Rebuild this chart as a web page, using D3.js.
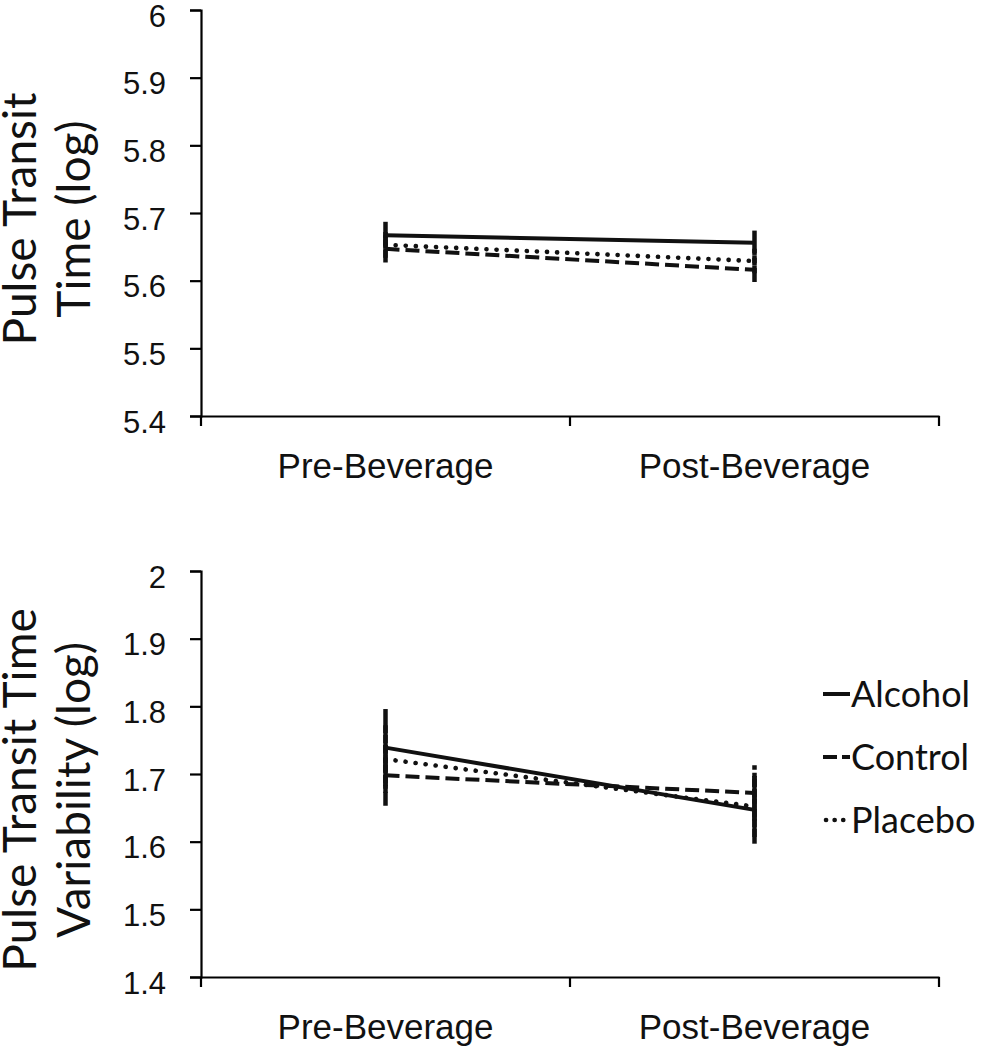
<!DOCTYPE html>
<html><head><meta charset="utf-8">
<script src="https://cdn.jsdelivr.net/npm/d3@7"></script>
<style>
html,body{margin:0;padding:0;background:#fff;}
svg{display:block;font-family:Lato,"Noto Sans",sans-serif;}
</style></head>
<body>
<svg id="c" width="984" height="1050"></svg>
<script>
const categories = ["Pre-Beverage", "Post-Beverage"];
const seriesNames = ["Alcohol", "Control", "Placebo"];

// Panel 1: Pulse Transit Time (log)
const pttAlcohol = [5.667, 5.656];
const pttControl = [5.647, 5.616];
const pttPlacebo = [5.653, 5.629];
const pttErrAlcohol = [0.020, 0.018];
const pttErrControl = [0.020, 0.018];
const pttErrPlacebo = [0.019, 0.018];
const pttTicks = [5.4, 5.5, 5.6, 5.7, 5.8, 5.9, 6];

// Panel 2: Pulse Transit Time Variability (log)
const pttvAlcohol = [1.739, 1.647];
const pttvControl = [1.698, 1.672];
const pttvPlacebo = [1.722, 1.652];
const pttvErrAlcohol = [0.057, 0.050];
const pttvErrControl = [0.045, 0.041];
const pttvErrPlacebo = [0.050, 0.045];
const pttvTicks = [1.4, 1.5, 1.6, 1.7, 1.8, 1.9, 2];

const styles = {
  Alcohol: {dash: null, width: 4, cap: "butt"},
  Control: {dash: "14,6", width: 4, cap: "butt"},
  Placebo: {dash: "0.1,10", width: 4.6, cap: "round"}
};

const svg = d3.select("#c");

function panel(cfg) {
  const g = svg.append("g");
  const x = d3.scaleBand().domain(categories).range([201, 939]).padding(0);
  const y = d3.scaleLinear().domain([cfg.ticks[0], cfg.ticks[cfg.ticks.length-1]]).range([cfg.bottom, cfg.top]);

  // y axis
  const ya = g.append("g").attr("transform", "translate(201,0)")
    .call(d3.axisLeft(y).tickValues(cfg.ticks).tickSize(11).tickPadding(24).tickFormat(d => d3.format("~g")(d)));
  ya.select(".domain").attr("stroke", "#000").attr("stroke-width", 2.2);
  ya.selectAll(".tick line").attr("stroke", "#000").attr("stroke-width", 2.2);
  ya.selectAll(".tick text").attr("font-size", 31).attr("fill", "#111").attr("dy", "0.52em");

  // x axis
  const xa = g.append("g").attr("transform", `translate(0,${cfg.bottom})`)
    .call(d3.axisBottom(x).tickSize(0).tickPadding(37));
  xa.select(".domain").attr("stroke", "#000").attr("stroke-width", 2.2);
  xa.selectAll(".tick text").attr("font-size", 35).attr("fill", "#111");
  const bounds = [x(categories[0]), x(categories[1]), x(categories[1]) + x.bandwidth()];
  xa.selectAll("line.bt").data(bounds).enter().append("line").attr("class", "bt")
    .attr("x1", d => d).attr("x2", d => d).attr("y1", 0).attr("y2", 10)
    .attr("stroke", "#000").attr("stroke-width", 2.2);

  const cx = c => x(c) + x.bandwidth() / 2;
  const line = d3.line().x(d => cx(d.c)).y(d => y(d.v));

  // error bars
  cfg.series.forEach(s => {
    categories.forEach((c, i) => {
      g.append("line")
        .attr("x1", cx(c)).attr("x2", cx(c))
        .attr("y1", y(s.values[i] - s.err[i])).attr("y2", y(s.values[i] + s.err[i]))
        .attr("stroke", "#111").attr("stroke-width", 4.5)
        .attr("stroke-dasharray", s.name === "Alcohol" ? null : (s.name === "Control" ? "14,3" : "8,2"));
    });
  });
  // lines
  cfg.series.slice().reverse().forEach(s => {
    const st = styles[s.name];
    g.append("path")
      .datum(categories.map((c, i) => ({c, v: s.values[i]})))
      .attr("d", line).attr("fill", "none")
      .attr("stroke", "#111").attr("stroke-width", st.width)
      .attr("stroke-linecap", st.cap)
      .attr("stroke-dasharray", st.dash);
  });

  // y title
  const t = g.append("text").attr("transform", `translate(0,${cfg.titleY}) rotate(-90)`)
    .attr("text-anchor", "middle").attr("font-size", cfg.titleSize).attr("fill", "#111");
  t.append("tspan").attr("x", 0).attr("y", 36).text(cfg.title[0]);
  t.append("tspan").attr("x", 0).attr("y", 90).text(cfg.title[1]);
}

panel({
  top: 10, bottom: 416, ticks: pttTicks, titleY: 219, titleSize: 46,
  title: ["Pulse Transit", "Time (log)"],
  series: [
    {name: "Alcohol", values: pttAlcohol, err: pttErrAlcohol},
    {name: "Control", values: pttControl, err: pttErrControl},
    {name: "Placebo", values: pttPlacebo, err: pttErrPlacebo}
  ]
});
panel({
  top: 571, bottom: 977, ticks: pttvTicks, titleY: 790, titleSize: 46,
  title: ["Pulse Transit Time", "Variability (log)"],
  series: [
    {name: "Alcohol", values: pttvAlcohol, err: pttvErrAlcohol},
    {name: "Control", values: pttvControl, err: pttvErrControl},
    {name: "Placebo", values: pttvPlacebo, err: pttvErrPlacebo}
  ]
});

// legend
const legY = d3.scalePoint().domain(seriesNames).range([694, 820]);
const lg = svg.append("g");
seriesNames.forEach(n => {
  const st = styles[n];
  const yy = legY(n);
  const ln = lg.append("line").attr("x1", 823).attr("x2", 850).attr("y1", yy).attr("y2", yy)
    .attr("stroke", "#111").attr("stroke-width", 4).attr("stroke-linecap", st.cap);
  if (n === "Control") ln.attr("stroke-dasharray", "14,5");
  if (n === "Placebo") ln.attr("x1", 826).attr("stroke-dasharray", "0.1,8.5").attr("stroke-width", 4.6);
  lg.append("text").attr("x", 851).attr("y", yy).attr("dy", "0.36em")
    .attr("font-size", 36).attr("fill", "#111").text(n);
});
</script>
</body></html>
